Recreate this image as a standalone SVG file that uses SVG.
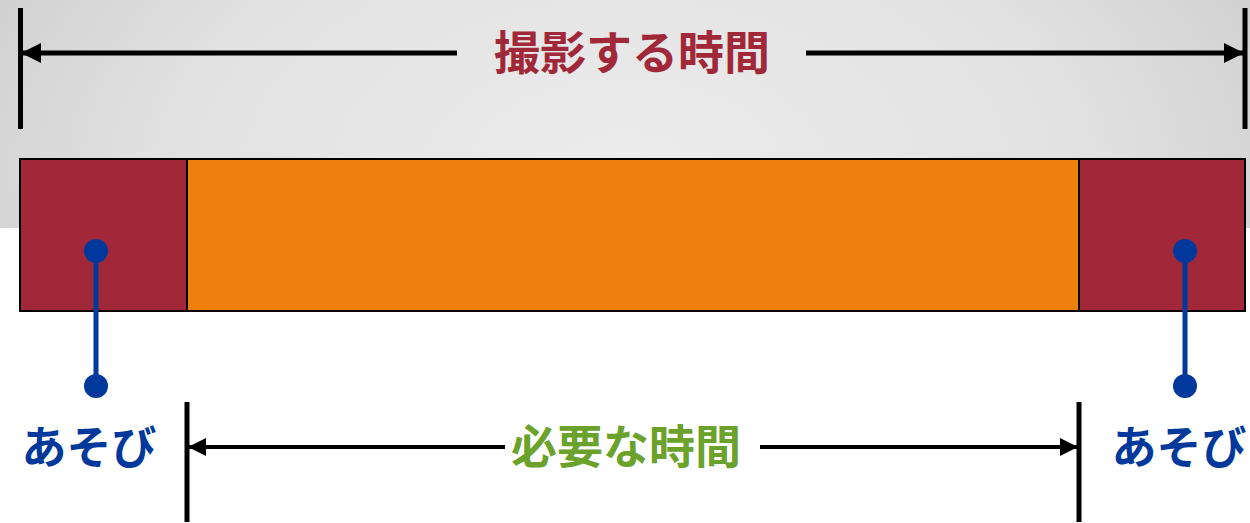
<svg xmlns="http://www.w3.org/2000/svg" width="1250" height="523" viewBox="0 0 1250 523">
<defs>
<radialGradient id="bg" cx="0.5" cy="0.75" r="0.6" fx="0.5" fy="0.75" gradientTransform="translate(0.5 0.75) scale(1 3.2) translate(-0.5 -0.75)">
<stop offset="0" stop-color="#ececec"/>
<stop offset="0.6" stop-color="#e2e2e2"/>
<stop offset="1" stop-color="#cdcdcd"/>
</radialGradient>
<marker id="ah" viewBox="0 0 10 10" refX="10" refY="5" markerWidth="4" markerHeight="4" orient="auto-start-reverse" markerUnits="strokeWidth">
<path d="M0,0 L10,5 L0,10 Z" fill="#000"/>
</marker>
<marker id="ah2" viewBox="0 0 10 10" refX="10" refY="5" markerWidth="4.5" markerHeight="4.5" orient="auto-start-reverse" markerUnits="strokeWidth">
<path d="M0,0 L10,5 L0,10 Z" fill="#000"/>
</marker>
</defs>
<style>
.lbl{font-family:"Noto Sans CJK JP","Noto Sans",sans-serif;font-weight:bold;text-anchor:middle;dominant-baseline:central}
.bar{stroke:#000;stroke-width:5}
.dim{stroke:#000;fill:none}
.seg{stroke:#000;stroke-width:2}
.pin{stroke:#00389c;stroke-width:5}
.dot{fill:#00389c}
</style>
<rect x="0" y="0" width="1250" height="228" fill="url(#bg)"/>
<g id="connectors">
<line class="bar" x1="20.5" y1="8" x2="20.5" y2="129"/>
<line class="bar" x1="1245" y1="8" x2="1245" y2="129"/>
<line class="dim" stroke-width="5" x1="457" y1="53" x2="21" y2="53" marker-end="url(#ah)"/>
<line class="dim" stroke-width="5" x1="806" y1="53" x2="1244" y2="53" marker-end="url(#ah)"/>
<line class="bar" x1="187" y1="402" x2="187" y2="522"/>
<line class="bar" x1="1079" y1="402" x2="1079" y2="522"/>
<line class="dim" stroke-width="4" x1="505" y1="447" x2="188" y2="447" marker-end="url(#ah2)"/>
<line class="dim" stroke-width="4" x1="760" y1="447" x2="1078" y2="447" marker-end="url(#ah2)"/>
</g>
<g id="slack-left">
<rect class="seg" x="20" y="159" width="167" height="152" fill="#a02838"/>
</g>
<g id="required">
<rect class="seg" x="187" y="159" width="892" height="152" fill="#ef800b"/>
</g>
<g id="slack-right">
<rect class="seg" x="1079" y="159" width="166" height="152" fill="#a02838"/>
</g>
<g id="pin-left">
<line class="pin" x1="96" y1="251" x2="96" y2="386"/>
<circle class="dot" cx="96" cy="251" r="12"/>
<circle class="dot" cx="96" cy="386" r="12"/>
<text class="lbl" x="89" y="444" font-size="45" fill="#00389c">あそび</text>
</g>
<g id="pin-right">
<line class="pin" x1="1185" y1="251" x2="1185" y2="386"/>
<circle class="dot" cx="1185" cy="251" r="12"/>
<circle class="dot" cx="1185" cy="386" r="12"/>
<text class="lbl" x="1179" y="444" font-size="45" fill="#00389c">あそび</text>
</g>
<g id="label-total">
<text class="lbl" x="632" y="49" font-size="46" fill="#a02838">撮影する時間</text>
</g>
<g id="label-required">
<text class="lbl" x="626" y="443" font-size="46" fill="#6ba22b">必要な時間</text>
</g>
</svg>
